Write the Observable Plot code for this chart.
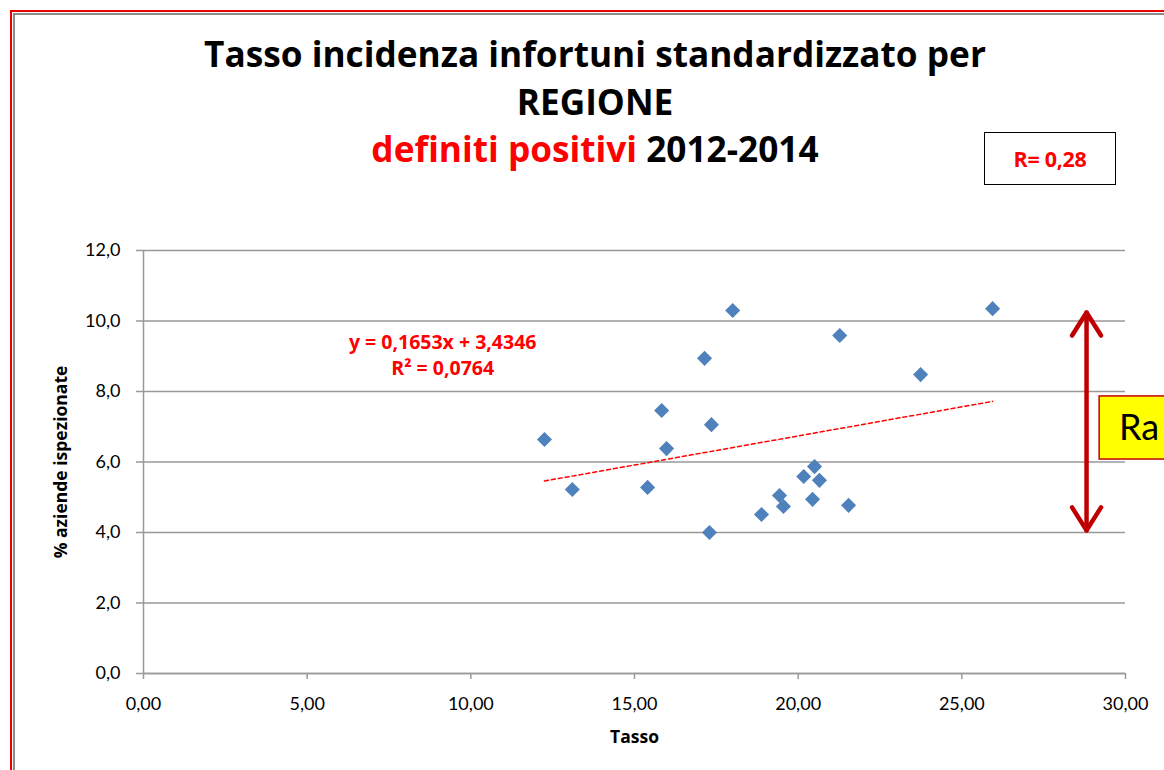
<!DOCTYPE html>
<html>
<head>
<meta charset="utf-8">
<script src="https://cdn.jsdelivr.net/npm/d3@7"></script>
<script src="https://cdn.jsdelivr.net/npm/@observablehq/plot@0.6"></script>
<style>
  html, body { margin: 0; padding: 0; background: #fff; overflow: hidden; }
  #fig { position: relative; width: 1164px; height: 770px; overflow: hidden; background: #fff; font-family: Lato, "Open Sans", sans-serif; }
  #head { position: relative; height: 200px; }
  #title { position: absolute; left: 0; top: 30px; width: 1190px; text-align: center; font-family: "Open Sans", sans-serif; font-weight: 700; font-size: 34px; line-height: 47.5px; color: #000; }
  #title .red { color: #ff0000; }
  #title span.line { white-space: nowrap; }
  #rbox { position: absolute; left: 984px; top: 132px; width: 130px; height: 51px; border: 1.5px solid #000; display: flex; align-items: center; justify-content: center; color: #ff0000; font-family: "Open Sans", sans-serif; font-weight: 700; font-size: 21.5px; letter-spacing: -0.3px; }
  .frame { position: absolute; width: 3000px; height: 3000px; pointer-events: none; }
  .frame.red { left: 10px; top: 10px; border-left: 2px solid #e60000; border-top: 2px solid #e60000; }
  .frame.gray { left: 13px; top: 13px; border-left: 2px solid #8c8c8c; border-top: 2px solid #8c8c8c; }
</style>
</head>
<body>
<div id="fig">
  <div id="head">
    <div id="title">
      <div><span class="line" id="t1">Tasso incidenza infortuni standardizzato per</span></div>
      <div><span class="line">REGIONE</span></div>
      <div><span class="line"><span class="red">definiti positivi</span> 2012-2014</span></div>
    </div>
    <div id="rbox">R= 0,28</div>
  </div>
  <div id="chart"></div>
  <div class="frame red"></div>
  <div class="frame gray"></div>
</div>
<script>
// Data
const tasso   = [12.25, 13.10, 15.40, 15.83, 15.98, 17.14, 17.29, 17.35, 18.00, 18.88, 19.43, 19.55, 20.17, 20.44, 20.50, 20.65, 21.27, 21.54, 23.74, 25.94];
const aziende = [6.64, 5.22, 5.28, 7.46, 6.38, 8.94, 4.00, 7.06, 10.30, 4.51, 5.05, 4.74, 5.59, 4.94, 5.87, 5.48, 9.59, 4.77, 8.48, 10.35];

// Excel linear trendline endpoints (as drawn)
const trendX = [12.25, 25.94];
const trendY = [5.46, 7.72];
const equationText = "y = 0,1653x + 3,4346\nR² = 0,0764";

// Axis ticks
const xTicks = [0, 5, 10, 15, 20, 25, 30];
const yTicks = [0, 2, 4, 6, 8, 10, 12];

// Annotations: double arrow and "Ra" label (data units)
const arrowX = 28.81, arrowTop = 10.24, arrowBottom = 4.06;
const raBox = {x1: 29.21, x2: 31.8, y1: 6.07, y2: 7.86};

// Fit title size to reference width
(function fitTitle() {
  const t1 = document.getElementById("t1");
  const w = t1.getBoundingClientRect().width;
  const size = 34 * 782 / w;
  document.getElementById("title").style.fontSize = size.toFixed(2) + "px";
})();

const points = tasso.map((x, i) => ({x, y: aziende[i]}));
const trend = trendX.map((x, i) => ({x, y: trendY[i]}));

const headDX = 0.443, headDY = 0.652;
const arrowSegs = [
  {x: arrowX, y: arrowBottom, s: "shaft"}, {x: arrowX, y: arrowTop, s: "shaft"},
  {x: arrowX - headDX, y: arrowTop - headDY, s: "top"}, {x: arrowX, y: arrowTop, s: "top"}, {x: arrowX + headDX, y: arrowTop - headDY, s: "top"},
  {x: arrowX - headDX, y: arrowBottom + headDY, s: "bot"}, {x: arrowX, y: arrowBottom, s: "bot"}, {x: arrowX + headDX, y: arrowBottom + headDY, s: "bot"}
];

const fmtX = d => d.toFixed(2).replace(".", ",");
const fmtY = d => d.toFixed(1).replace(".", ",");
const boldFont = "'Open Sans', sans-serif";

const chart = Plot.plot({
  width: 1164,
  height: 570,
  marginTop: 50,
  marginBottom: 97,
  marginLeft: 143,
  marginRight: 39,
  style: {fontFamily: "Lato, 'Open Sans', sans-serif", fontSize: "18px", color: "#000", background: "#fff", overflow: "hidden"},
  x: {domain: [0, 30]},
  y: {domain: [0, 12]},
  marks: [
    Plot.gridY(yTicks, {stroke: "#999", strokeOpacity: 1, strokeWidth: 1.5}),
    Plot.ruleX([0], {stroke: "#999", strokeWidth: 1.5}),
    Plot.ruleY([0], {stroke: "#999", strokeWidth: 1.5}),
    Plot.axisY(yTicks, {tickFormat: fmtY, tickSize: 7, tickPadding: 16, stroke: "#999", strokeWidth: 1.5, label: null, fontSize: 18}),
    Plot.axisX(xTicks, {tickFormat: fmtX, tickSize: 6, tickPadding: 18, stroke: "#999", strokeWidth: 1.5, label: null, fontSize: 18}),
    Plot.text(["% aziende ispezionate"], {frameAnchor: "left", rotate: -90, dx: -82, fontFamily: boldFont, fontWeight: "bold", fontSize: 17.5, textAnchor: "middle", lineAnchor: "middle"}),
    Plot.text(["Tasso"], {frameAnchor: "bottom", dy: 64, fontFamily: boldFont, fontWeight: "bold", fontSize: 17.5, lineAnchor: "middle"}),
    Plot.line(trend, {x: "x", y: "y", stroke: "#ff0000", strokeWidth: 1.5, strokeDasharray: "4,3"}),
    Plot.text([equationText], {x: 9.14, y: 9.08, fill: "#ff0000", fontFamily: boldFont, fontWeight: "bold", fontSize: 19.5, lineHeight: 1.35, textAnchor: "middle"}),
    Plot.dot(points, {x: "x", y: "y", symbol: "diamond2", r: 6.8, fill: "#4F81BD", stroke: "none"}),
    Plot.line(arrowSegs, {x: "x", y: "y", z: "s", stroke: "#c00000", strokeWidth: 4.5, strokeLinecap: "round", strokeLinejoin: "round"}),
    Plot.rect([raBox], {x1: "x1", x2: "x2", y1: "y1", y2: "y2", fill: "#ffff00", stroke: "#c00000", strokeWidth: 1.5}),
    Plot.text(["Ra"], {x: 29.8, y: 6.95, textAnchor: "start", fontSize: 36, fill: "#000"})
  ]
});
document.getElementById("chart").appendChild(chart);
</script>
</body>
</html>
